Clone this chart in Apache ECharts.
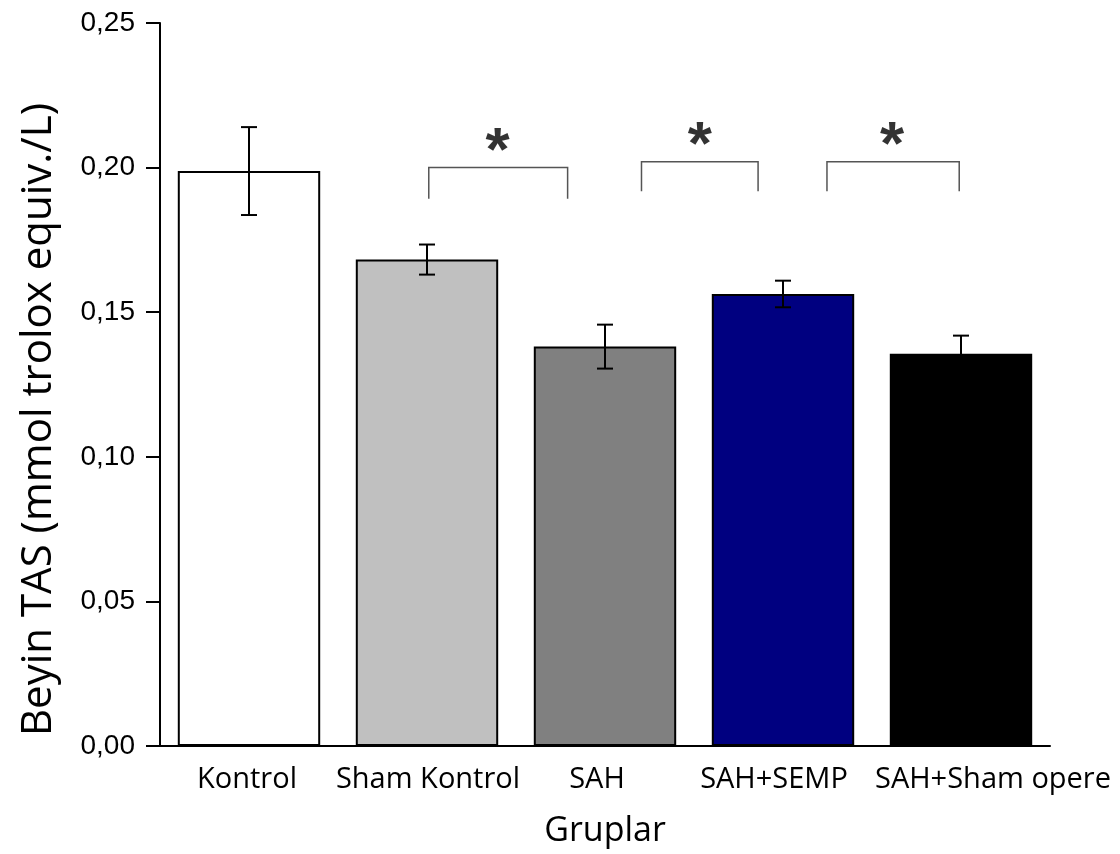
<!DOCTYPE html>
<html>
<head>
<meta charset="utf-8">
<script src="https://cdn.jsdelivr.net/npm/echarts@6/dist/echarts.min.js"></script>
<style>
html,body{margin:0;padding:0;background:#fff;}
#chart{width:1120px;height:854px;}
</style>
</head>
<body>
<div id="chart"></div>
<script>
const categories = ['Kontrol', 'Sham Kontrol', 'SAH', 'SAH+SEMP', 'SAH+Sham opere'];
const means = [0.1988, 0.1682, 0.1381, 0.1563, 0.1356];
const errors = [0.0152, 0.0052, 0.0076, 0.0046, 0.0063];
const barColors = ['#ffffff', '#c0c0c0', '#808080', '#000080', '#000000'];
const yMin = 0, yMax = 0.25, yStep = 0.05;
// significance brackets (x in category units, y in data units)
const bracketStart = [1.01, 2.205, 3.247];
const bracketEnd = [1.79, 2.86, 3.99];
const bracketTop = [0.2000, 0.2020, 0.2020];
const bracketBottom = [0.1892, 0.1918, 0.1918];
const starX = [1.397, 2.532, 3.613];
const starY = [0.2089, 0.2110, 0.2110];
const starText = ['*', '*', '*'];

const chart = echarts.init(document.getElementById('chart'));

// label horizontal nudges (px) to match the reference's label placement
const labelNudge = [-2, 1, -8, -9, 32];
const categoryData = categories.map((c, i) => {
  const n = labelNudge[i];
  return { value: c, textStyle: { padding: n >= 0 ? [0, 0, 0, 2 * n] : [0, -2 * n, 0, 0] } };
});
const barData = means.map((v, i) => ({
  value: v,
  itemStyle: { color: barColors[i], borderColor: '#000', borderWidth: 2 }
}));
const errData = means.map((v, i) => [i, v - errors[i], v + errors[i]]);
const bracketData = bracketStart.map((x, i) => [x, bracketEnd[i], bracketTop[i], bracketBottom[i]]);
const starData = starX.map((x, i) => ({ value: [x, starY[i]], label: { formatter: starText[i] } }));

const option = {
  animation: false,
  backgroundColor: '#ffffff',
  grid: { left: 160, right: 70, top: 23, bottom: 108, outerBoundsMode: 'none' },
  xAxis: [
    {
      type: 'category',
      data: categoryData,
      axisLine: { onZero: false, lineStyle: { color: '#000', width: 2 } },
      axisTick: { show: false },
      axisLabel: { color: '#000', fontFamily: 'Open Sans', fontSize: 29, margin: 19, interval: 0 },
      name: 'Gruplar',
      nameLocation: 'middle',
      nameGap: 68,
      nameTextStyle: { color: '#000', fontFamily: 'Open Sans', fontSize: 34 }
    },
    { type: 'value', min: -0.5, max: categories.length - 0.5, show: false, axisLine: { onZero: false } }
  ],
  yAxis: {
    type: 'value',
    min: yMin, max: yMax, interval: yStep,
    splitLine: { show: false },
    axisLine: { show: true, onZero: false, lineStyle: { color: '#000', width: 2 } },
    axisTick: { show: true, length: 14, lineStyle: { color: '#000', width: 2 } },
    axisLabel: {
      color: '#000', fontFamily: 'Liberation Sans', fontSize: 28, margin: 25,
      formatter: v => v.toFixed(2).replace('.', ',')
    },
    name: 'Beyin TAS (mmol trolox equiv./L)',
    nameLocation: 'middle',
    nameGap: 100,
    nameTextStyle: { color: '#000', fontFamily: 'Open Sans', fontSize: 42, padding: [0, 70, 0, 0] }
  },
  series: [
    {
      type: 'bar',
      xAxisIndex: 0,
      data: barData,
      barWidth: '80%'
    },
    {
      type: 'custom',
      xAxisIndex: 1,
      z: 5,
      encode: { x: 0, y: [1, 2] },
      data: errData,
      renderItem: function (params, api) {
        const x = api.value(0);
        const bot = api.coord([x, api.value(1)]);
        const top = api.coord([x, api.value(2)]);
        const hw = 8;
        const st = { stroke: '#000', lineWidth: 2 };
        return {
          type: 'group',
          children: [
            { type: 'line', shape: { x1: top[0], y1: top[1], x2: bot[0], y2: bot[1] }, style: st },
            { type: 'line', shape: { x1: top[0] - hw, y1: top[1], x2: top[0] + hw, y2: top[1] }, style: st },
            { type: 'line', shape: { x1: bot[0] - hw, y1: bot[1], x2: bot[0] + hw, y2: bot[1] }, style: st }
          ]
        };
      }
    },
    {
      type: 'custom',
      xAxisIndex: 1,
      z: 5,
      encode: { x: [0, 1], y: [2, 3] },
      data: bracketData,
      renderItem: function (params, api) {
        const p1 = api.coord([api.value(0), api.value(3)]);
        const p2 = api.coord([api.value(0), api.value(2)]);
        const p3 = api.coord([api.value(1), api.value(2)]);
        const p4 = api.coord([api.value(1), api.value(3)]);
        return {
          type: 'polyline',
          shape: { points: [p1, p2, p3, p4] },
          style: { stroke: '#555', lineWidth: 1.5, fill: null }
        };
      }
    },
    {
      type: 'scatter',
      xAxisIndex: 1,
      symbolSize: 1,
      itemStyle: { color: 'rgba(0,0,0,0)' },
      data: starData,
      label: {
        show: true, position: 'inside', color: '#000',
        fontFamily: 'Liberation Sans', fontWeight: 'bold', fontSize: 62,
        offset: [0, 11]
      }
    }
  ]
};
chart.setOption(option);
</script>
</body>
</html>
